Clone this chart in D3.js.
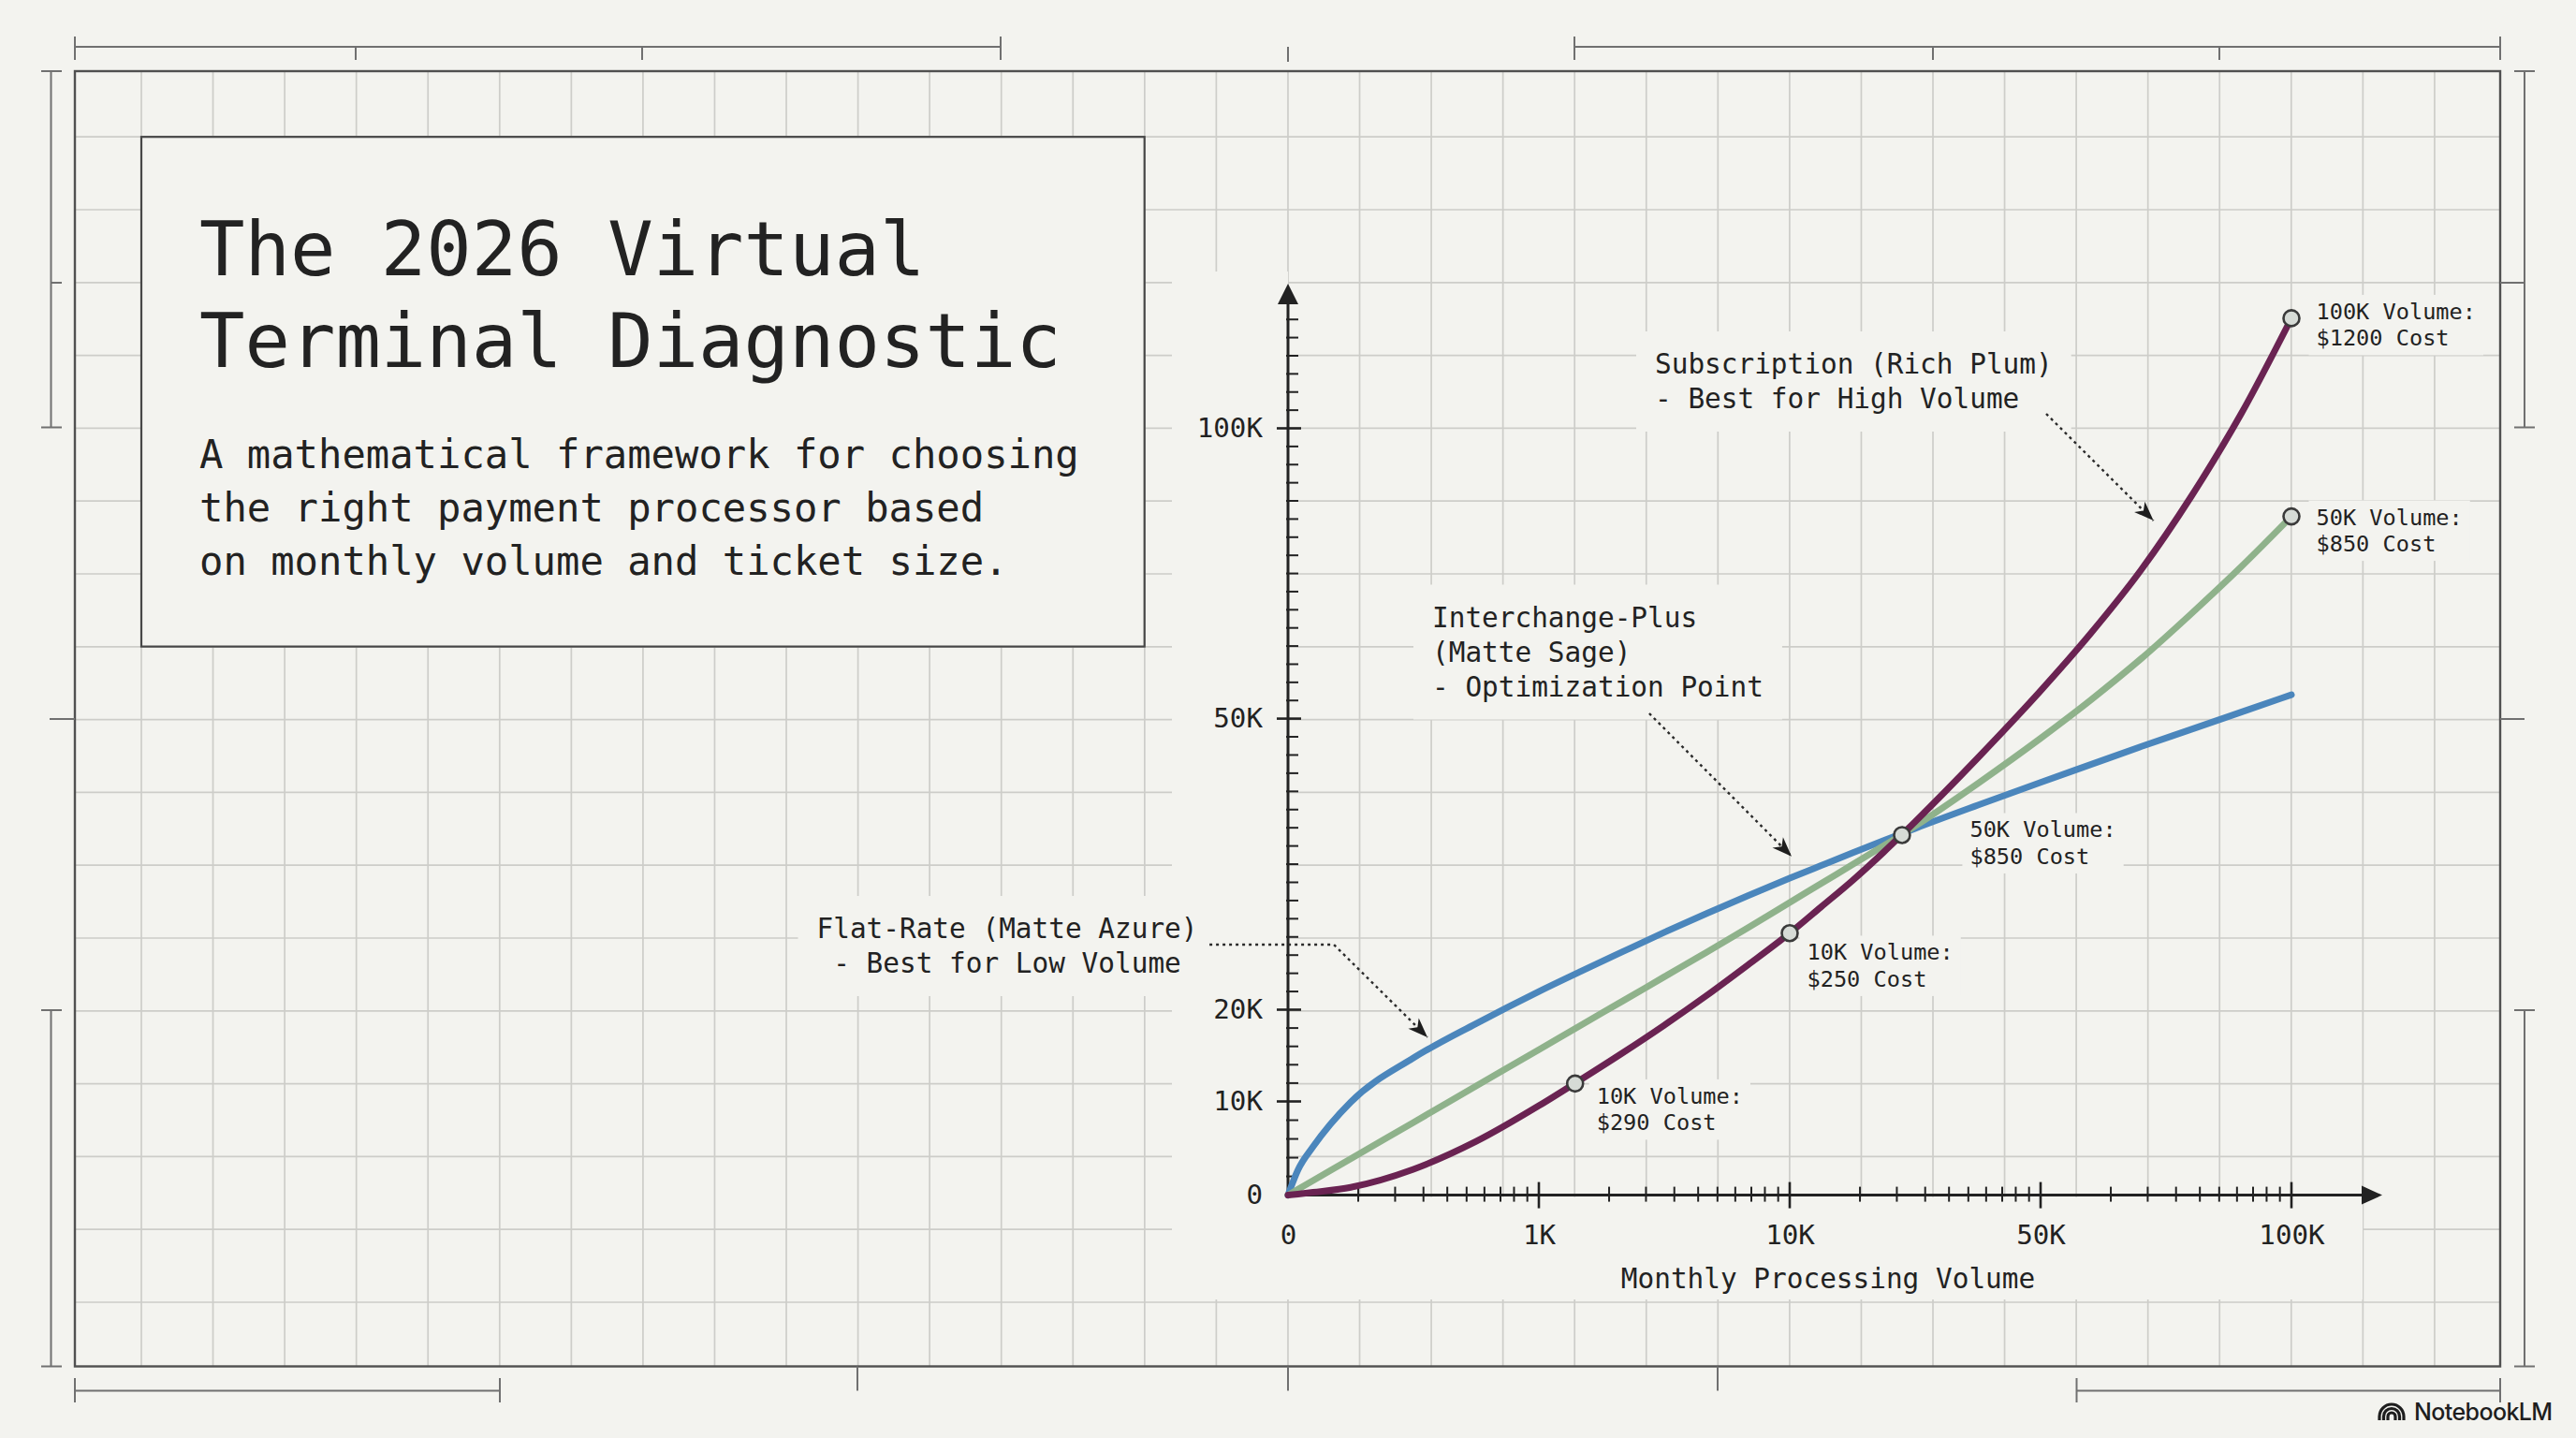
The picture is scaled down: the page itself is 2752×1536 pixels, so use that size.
<!DOCTYPE html>
<html>
<head>
<meta charset="utf-8">
<script src="https://cdn.jsdelivr.net/npm/d3@7/dist/d3.min.js"></script>
<style>
html,body{margin:0;padding:0;background:#f3f3ef;overflow:hidden;}
svg{display:block;}
</style>
</head>
<body>
<svg id="chart" width="2752" height="1536"></svg>
<script>
// ---------------- DATA ----------------
const volumeSamples    = [0,40,100,250,500,750,1000,2500,4000,5500,7000,8500,10000,15000,20000,25000,30000,40000,50000,60000,70000,80000,90000,100000];
const flatRateCost     = [0,2700,5170,9930,14740,18490,21880,23950,25970,27970,29890,31740,33550,34860,36160,37430,38680,41080,43430,45270,47110,48890,51130,54110];
const interchangeCost  = [0,620,1550,3890,7760,11680,15640,18300,20880,23390,25890,28450,31050,33000,34950,36900,38920,43320,47970,53210,60290,68040,76170,84830];
const subscriptionCost = [0,110,300,840,2760,5730,9540,12370,15280,18310,21420,24610,27890,30590,33310,36250,39380,45960,54800,64690,75570,88230,102530,118960];

const xTickValues = [0,1000,10000,50000,100000];
const xTickLabels = ["0","1K","10K","50K","100K"];
const yTickValues = [0,10000,20000,50000,100000];
const yTickLabels = ["0","10K","20K","50K","100K"];
const xMinorFractions = [0.28,0.427,0.54,0.635,0.712,0.783,0.847,0.901,0.954];

const markerVolume = [100000,100000,27900,10000,2300];
const markerCost   = [118960,84830,38000,27890,11950];
const markerLabels = [["100K Volume:","$1200 Cost"],["50K Volume:","$850 Cost"],["50K Volume:","$850 Cost"],["10K Volume:","$250 Cost"],["10K Volume:","$290 Cost"]];

const annotationTexts = [
  ["Subscription (Rich Plum)","- Best for High Volume"],
  ["Interchange-Plus","(Matte Sage)","- Optimization Point"],
  ["Flat-Rate (Matte Azure)","- Best for Low Volume"]
];
// leader anchor points in data space [volume, cost]
const annotationLeaders = [
  [[51120,102500],[72500,84100]],
  [[4960,50900],[10300,35800]],
  [[-313,26700],[183,26700],[556,17000]]
];

const titleLines = ["The 2026 Virtual","Terminal Diagnostic"];
const subtitleLines = ["A mathematical framework for choosing","the right payment processor based","on monthly volume and ticket size."];
const xAxisTitle = "Monthly Processing Volume";

// ---------------- LAYOUT / STYLE ----------------
const W = 2752, H = 1536;
const MONO = "'DejaVu Sans Mono','Liberation Mono',monospace";
const C = {bg:"#f3f3ef", grid:"#cdcdc9", frame:"#505050", ink:"#222222", dim:"#707070",
           blue:"#4b86bc", sage:"#8fb28b", plum:"#6a2352", markerFill:"#d6dbd6", markerStroke:"#3a3a3a"};

const svg = d3.select("#chart");
svg.append("rect").attr("width",W).attr("height",H).attr("fill",C.bg);

// grid
const frame = {x0:80, y0:76, x1:2671, y1:1459.5};
const gx0 = 151, gdx = 76.56, gy0 = 146.2, gdy = 77.8;
const gridG = svg.append("g").attr("stroke",C.grid).attr("stroke-width",1.7);
d3.range(0,33).forEach(k=>{
  const gx = gx0 + k*gdx;
  gridG.append("line").attr("x1",gx).attr("x2",gx).attr("y1",frame.y0).attr("y2",frame.y1);
});
d3.range(0,17).forEach(k=>{
  const gy = gy0 + k*gdy;
  gridG.append("line").attr("y1",gy).attr("y2",gy).attr("x1",frame.x0).attr("x2",frame.x1);
});

// scales
const x = d3.scaleLinear().domain(xTickValues).range([1376,1644,1912,2180,2448]);
const y = d3.scaleLinear().domain(yTickValues).range([1276.6,1176.5,1078.5,767.6,457.5]);
const X0 = x(0), Y0 = y(0);

// bands hiding the grid behind the axis labels
svg.append("rect").attr("x",1252).attr("y",290).attr("width",X0-1252).attr("height",1388-290).attr("fill",C.bg);
svg.append("rect").attr("x",1252).attr("y",Y0+2).attr("width",2524-1252).attr("height",1388-Y0-2).attr("fill",C.bg);

// frame
svg.append("rect").attr("x",frame.x0).attr("y",frame.y0).attr("width",frame.x1-frame.x0).attr("height",frame.y1-frame.y0)
   .attr("fill","none").attr("stroke",C.frame).attr("stroke-width",2.4);

// dimension decorations
const dimG = svg.append("g").attr("stroke",C.dim).attr("stroke-width",2).attr("fill","none");
function seg(x1,y1,x2,y2){ dimG.append("line").attr("x1",x1).attr("y1",y1).attr("x2",x2).attr("y2",y2); }
seg(80,50,1069,50); seg(80,39,80,64); seg(1069,39,1069,64); seg(380,50,380,64); seg(686,50,686,64);
seg(1682,50,2671,50); seg(1682,39,1682,64); seg(2671,39,2671,64); seg(2065,50,2065,64); seg(2371,50,2371,64);
seg(1376,50,1376,66);
seg(54.5,76,54.5,456.5); seg(44,76,66,76); seg(44,456.5,66,456.5); seg(54.5,302,66,302);
seg(53,768,80,768);
seg(54.5,1079,54.5,1459.5); seg(44,1079,66,1079); seg(44,1459.5,66,1459.5);
seg(2697,76,2697,456.5); seg(2686,76,2708,76); seg(2686,456.5,2708,456.5); seg(2671,302,2697,302);
seg(2671,768,2697,768);
seg(2697,1079,2697,1459.5); seg(2686,1079,2708,1079); seg(2686,1459.5,2708,1459.5);
seg(80,1485.5,534,1485.5); seg(80,1472,80,1498); seg(534,1472,534,1498);
seg(916,1459.5,916,1485.5); seg(1376,1459.5,1376,1485.5); seg(1835,1459.5,1835,1485.5);
seg(2218.5,1485.5,2671,1485.5); seg(2218.5,1472,2218.5,1498); seg(2671,1472,2671,1498);

// title box
svg.append("rect").attr("x",151).attr("y",146.2).attr("width",1071.7).attr("height",544.4)
   .attr("fill",C.bg).attr("stroke","#474747").attr("stroke-width",2.2);
const tG = svg.append("g").attr("font-family",MONO).attr("fill",C.ink);
titleLines.forEach((t,i)=>tG.append("text").attr("x",213).attr("y",294+i*98).attr("font-size",80.5).text(t));
subtitleLines.forEach((t,i)=>tG.append("text").attr("x",213).attr("y",500+i*57).attr("font-size",42.2).text(t));

// helper: text block with background box
function labelBlock(lines, lx, ly, size, lh, anchor, padX, padY){
  const g = svg.append("g");
  const txt = g.append("g").attr("font-family",MONO).attr("font-size",size).attr("fill",C.ink).attr("text-anchor",anchor);
  lines.forEach((t,i)=>txt.append("text").attr("x",lx).attr("y",ly+i*lh).text(t));
  const bb = txt.node().getBBox();
  g.insert("rect","g").attr("x",bb.x-padX).attr("y",bb.y-padY).attr("width",bb.width+2*padX).attr("height",bb.height+2*padY).attr("fill",C.bg);
}

// annotation labels
const annoLayout = [{x:1768,y:399,anchor:"start"},{x:1530,y:669.5,anchor:"start"},{x:1076,y:1002,anchor:"middle"}];
annotationTexts.forEach((lines,i)=>labelBlock(lines, annoLayout[i].x, annoLayout[i].y, 29.4, 37, annoLayout[i].anchor, 20, 18));

// data-point labels
const mLabelOffset = [[26.5,1],[26.5,9],[72.5,2.5],[18.5,28.7],[23,21.5]];
markerLabels.forEach((lines,i)=>{
  const px = x(markerVolume[i]) + mLabelOffset[i][0];
  const py = y(markerCost[i]) + mLabelOffset[i][1];
  labelBlock(lines, px, py, 23.6, 28.5, "start", 8, 4);
});

// ---------- axes ----------
const axG = svg.append("g");
const xMinor = [];
for(let i=0;i<xTickValues.length-1;i++){
  const a = xTickValues[i], b = xTickValues[i+1];
  xMinorFractions.forEach(f=>xMinor.push(a+(b-a)*f));
}
axG.append("g").attr("stroke",C.ink).attr("stroke-width",2)
  .selectAll("line").data(xMinor).join("line")
  .attr("x1",d=>x(d)).attr("x2",d=>x(d)).attr("y1",Y0-9).attr("y2",Y0+7);
axG.append("g").attr("stroke",C.ink).attr("stroke-width",2.6)
  .selectAll("line").data(xTickValues.slice(1)).join("line")
  .attr("x1",d=>x(d)).attr("x2",d=>x(d)).attr("y1",Y0-14).attr("y2",Y0+14);
const yMinor = [...d3.range(2000,20000,2000), ...d3.range(21875,50000,1875), ...d3.range(53125,120000,3125)]
  .filter(v=>!yTickValues.includes(v));
axG.append("g").attr("stroke",C.ink).attr("stroke-width",2)
  .selectAll("line").data(yMinor).join("line")
  .attr("x1",X0-2).attr("x2",X0+11).attr("y1",d=>y(d)).attr("y2",d=>y(d));
axG.append("g").attr("stroke",C.ink).attr("stroke-width",2.6)
  .selectAll("line").data(yTickValues.slice(1)).join("line")
  .attr("x1",X0-12).attr("x2",X0+14).attr("y1",d=>y(d)).attr("y2",d=>y(d));
axG.append("line").attr("x1",X0).attr("y1",Y0).attr("x2",X0).attr("y2",318).attr("stroke",C.ink).attr("stroke-width",3);
axG.append("path").attr("d",`M${X0},303 L${X0-11},325 L${X0+11},325 Z`).attr("fill",C.ink);
axG.append("line").attr("x1",X0).attr("y1",Y0).attr("x2",2530).attr("y2",Y0).attr("stroke",C.ink).attr("stroke-width",3);
axG.append("path").attr("d",`M2545,${Y0} L2523,${Y0-10} L2523,${Y0+10} Z`).attr("fill",C.ink);

const xAxis = d3.axisBottom(x).tickValues(xTickValues).tickFormat((d,i)=>xTickLabels[i]).tickSize(0).tickPadding(31.5);
const gxA = svg.append("g").attr("transform",`translate(0,${Y0})`).call(xAxis);
gxA.select(".domain").remove();
gxA.attr("font-family",MONO).attr("font-size",29.2);
gxA.selectAll("text").attr("fill",C.ink);
const yAxis = d3.axisLeft(y).tickValues(yTickValues).tickFormat((d,i)=>yTickLabels[i]).tickSize(0).tickPadding(27);
const gyA = svg.append("g").attr("transform",`translate(${X0},0)`).call(yAxis);
gyA.select(".domain").remove();
gyA.attr("font-family",MONO).attr("font-size",29.2);
gyA.selectAll("text").attr("fill",C.ink);

svg.append("text").attr("x",1953).attr("y",1376).attr("text-anchor","middle")
   .attr("font-family",MONO).attr("font-size",29.4).attr("fill",C.ink).text(xAxisTitle);

// ---------- leaders ----------
const defs = svg.append("defs");
defs.append("marker").attr("id","arrow").attr("viewBox","-22 -9 24 18").attr("refX",0).attr("refY",0)
  .attr("markerWidth",24).attr("markerHeight",18).attr("markerUnits","userSpaceOnUse").attr("orient","auto")
  .append("path").attr("d","M0,0 L-21,-8 L-15,0 L-21,8 Z").attr("fill","#1e1e1e");
const leaderLine = d3.line().x(d=>x(d[0])).y(d=>y(d[1]));
annotationLeaders.forEach(pts=>{
  svg.append("path").attr("d",leaderLine(pts)).attr("fill","none").attr("stroke","#2a2a2a")
     .attr("stroke-width",2.4).attr("stroke-dasharray","3 4").attr("marker-end","url(#arrow)");
});

// ---------- curves ----------
const line = d3.line().x(d=>x(d[0])).y(d=>y(d[1])).curve(d3.curveMonotoneX);
const series = [
  {vals:flatRateCost, color:C.blue},
  {vals:interchangeCost, color:C.sage},
  {vals:subscriptionCost, color:C.plum}
];
series.forEach(s=>{
  svg.append("path").attr("d",line(volumeSamples.map((v,i)=>[v,s.vals[i]])))
     .attr("fill","none").attr("stroke",s.color).attr("stroke-width",7).attr("stroke-linecap","round");
});

// markers
svg.append("g").selectAll("circle").data(markerVolume).join("circle")
  .attr("cx",d=>x(d)).attr("cy",(d,i)=>y(markerCost[i])).attr("r",8.5)
  .attr("fill",C.markerFill).attr("stroke",C.markerStroke).attr("stroke-width",2.6);

// NotebookLM logo
const logo = svg.append("g");
[13,8.5,4].forEach(r=>{
  logo.append("path").attr("d",`M${2555-r},1517 L${2555-r},1513 A${r},${r} 0 0 1 ${2555+r},1513 L${2555+r},1517`)
      .attr("fill","none").attr("stroke","#1e1e1e").attr("stroke-width",3.2);
});
logo.append("text").attr("x",2579).attr("y",1517).attr("font-family","Inter, Roboto, sans-serif")
    .attr("font-size",25).attr("font-weight",500).attr("letter-spacing",-0.6).attr("fill","#1e1e1e").text("NotebookLM");
</script>
</body>
</html>
